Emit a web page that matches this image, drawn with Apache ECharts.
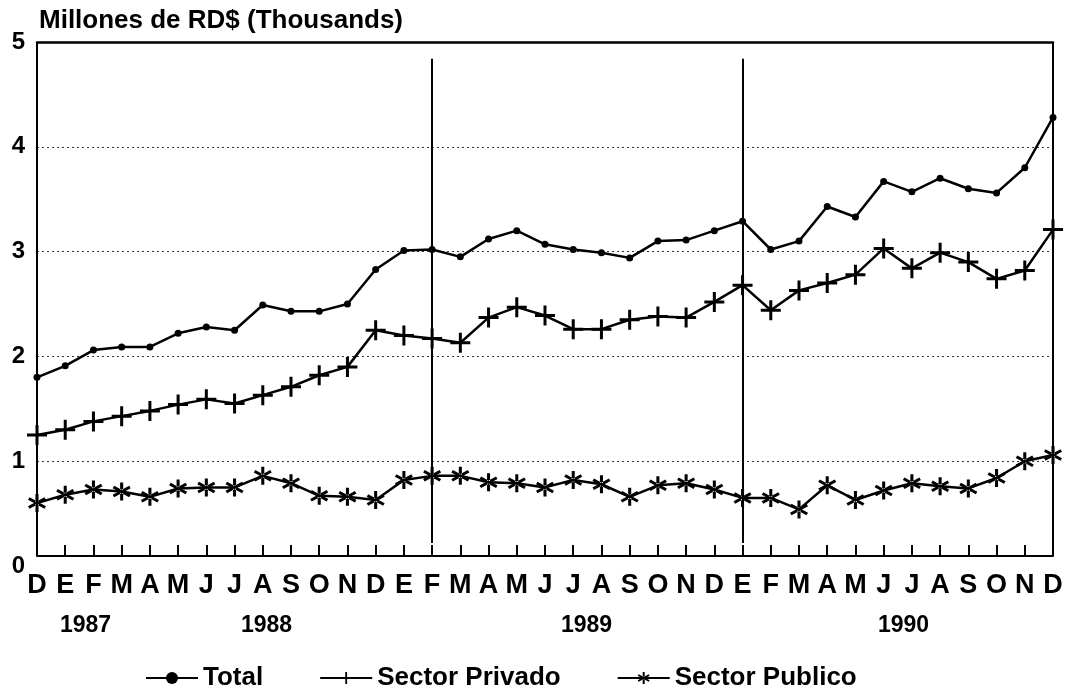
<!DOCTYPE html>
<html>
<head>
<meta charset="utf-8">
<script src="https://cdn.jsdelivr.net/npm/echarts@6/dist/echarts.min.js"></script>
<style>
  html, body { margin: 0; padding: 0; background: #fff; }
  #chart { width: 1066px; height: 691px; }
</style>
</head>
<body>
<div id="chart"></div>
<script>
// meses: D 1987 .. D 1990
const months = ['D','E','F','M','A','M','J','J','A','S','O','N','D',
  'E','F','M','A','M','J','J','A','S','O','N','D',
  'E','F','M','A','M','J','J','A','S','O','N','D'];

const total = [1.80,1.91,2.06,2.09,2.09,2.22,2.28,2.25,2.49,2.43,2.43,2.50,2.83,
  3.01,3.02,2.95,3.12,3.20,3.07,3.02,2.99,2.94,3.10,3.11,3.20,
  3.29,3.02,3.10,3.43,3.33,3.67,3.57,3.70,3.60,3.56,3.80,4.28];

const privado = [1.25,1.30,1.38,1.43,1.48,1.54,1.59,1.55,1.63,1.71,1.82,1.90,2.25,
  2.20,2.17,2.13,2.37,2.47,2.39,2.26,2.26,2.35,2.38,2.37,2.52,
  2.68,2.44,2.63,2.70,2.78,3.03,2.84,2.99,2.90,2.74,2.82,3.21];

const publico = [0.60,0.68,0.73,0.71,0.66,0.74,0.75,0.75,0.86,0.79,0.67,0.66,0.63,
  0.82,0.86,0.86,0.80,0.79,0.75,0.82,0.78,0.66,0.77,0.79,0.73,
  0.65,0.65,0.54,0.77,0.63,0.72,0.79,0.76,0.74,0.84,1.00,1.06];

const dividers = [14, 25];
const years = ['1987', '1988', '1989', '1990'];

const plusPath = 'path://M-1.5,-10H1.5V-1.5H10V1.5H1.5V10H-1.5V1.5H-10V-1.5H-1.5Z';
const starPath = 'path://M-1.6,-10L1.6,-10L1.6,10L-1.6,10Z' +
  'M7.86,6.39L9.46,3.61L-7.86,-6.39L-9.46,-3.61Z' +
  'M9.46,-3.61L7.86,-6.39L-9.46,3.61L-7.86,6.39Z';

const font = "'Liberation Sans', Arial, sans-serif";
const narrow = "'Liberation Sans Narrow', 'Liberation Sans', Arial, sans-serif";

const chart = echarts.init(document.getElementById('chart'));

const lineBase = {
  type: 'line',
  lineStyle: { color: '#000', width: 2.5 },
  itemStyle: { color: '#000' },
  z: 3
};

// borde izquierdo y derecho del marco (desde el eje x elevado hasta arriba)
const frame = [0, months.length - 1].map(i => [{ coord: [i, 0.095] }, { coord: [i, 5] }]);
const vlines = dividers.map(d => [{ coord: [d, 4.84] }, { coord: [d, 0.22] }]);

chart.setOption({
  animation: false,
  title: {
    text: 'Millones de RD$ (Thousands)',
    left: 34,
    top: 3,
    textStyle: { fontFamily: font, fontWeight: 'bold', fontSize: 26, color: '#000' }
  },
  grid: { left: 37, right: 13, top: 42, bottom: 125 },
  legend: {
    left: 140,
    top: 660,
    itemWidth: 52,
    itemHeight: 15,
    itemGap: 56,
    textStyle: { fontFamily: font, fontWeight: 'bold', fontSize: 26, color: '#000' },
    data: ['Total', 'Sector Privado', 'Sector Publico']
  },
  xAxis: [
    {
      type: 'category',
      data: months,
      boundaryGap: false,
      offset: -10,
      axisLine: { lineStyle: { color: '#000', width: 2 } },
      axisTick: { inside: true, length: 11, lineStyle: { color: '#000', width: 2 } },
      axisLabel: {
        interval: 0, margin: 16,
        fontFamily: narrow, fontWeight: 'bold', fontSize: 27, color: '#000'
      }
    },
    {
      type: 'category',
      data: months,
      boundaryGap: false,
      position: 'top',
      axisLine: { lineStyle: { color: '#000', width: 2.5 } },
      axisTick: { show: false },
      axisLabel: { show: false }
    }
  ],
  yAxis: {
    type: 'value',
    min: 0, max: 5, interval: 1,
    axisLine: { show: false },
    axisTick: { show: false },
    axisLabel: {
      margin: 12,
      fontFamily: font, fontWeight: 'bold', fontSize: 24, color: '#000'
    },
    splitLine: {
      show: true,
      lineStyle: {
        color: ['transparent', '#333', '#333', '#333', '#333', 'transparent'],
        type: [2, 3], width: 1.2
      }
    }
  },
  graphic: years.map((y, i) => ({
    type: 'text',
    left: [60, 241, 561, 878][i],
    top: 614,
    style: { text: y, font: 'bold 23px ' + font, fill: '#000' }
  })),
  series: [
    Object.assign({}, lineBase, {
      name: 'Total',
      data: total,
      symbol: 'circle',
      symbolSize: 7,
      markLine: {
        silent: true,
        symbol: 'none',
        label: { show: false },
        lineStyle: { color: '#000', width: 2, type: 'solid' },
        data: vlines.concat(frame)
      }
    }),
    Object.assign({}, lineBase, {
      name: 'Sector Privado',
      data: privado,
      symbol: plusPath,
      symbolSize: 20
    }),
    Object.assign({}, lineBase, {
      name: 'Sector Publico',
      data: publico,
      symbol: starPath,
      symbolSize: 18
    })
  ]
});

window.addEventListener('resize', () => chart.resize());
</script>
</body>
</html>
